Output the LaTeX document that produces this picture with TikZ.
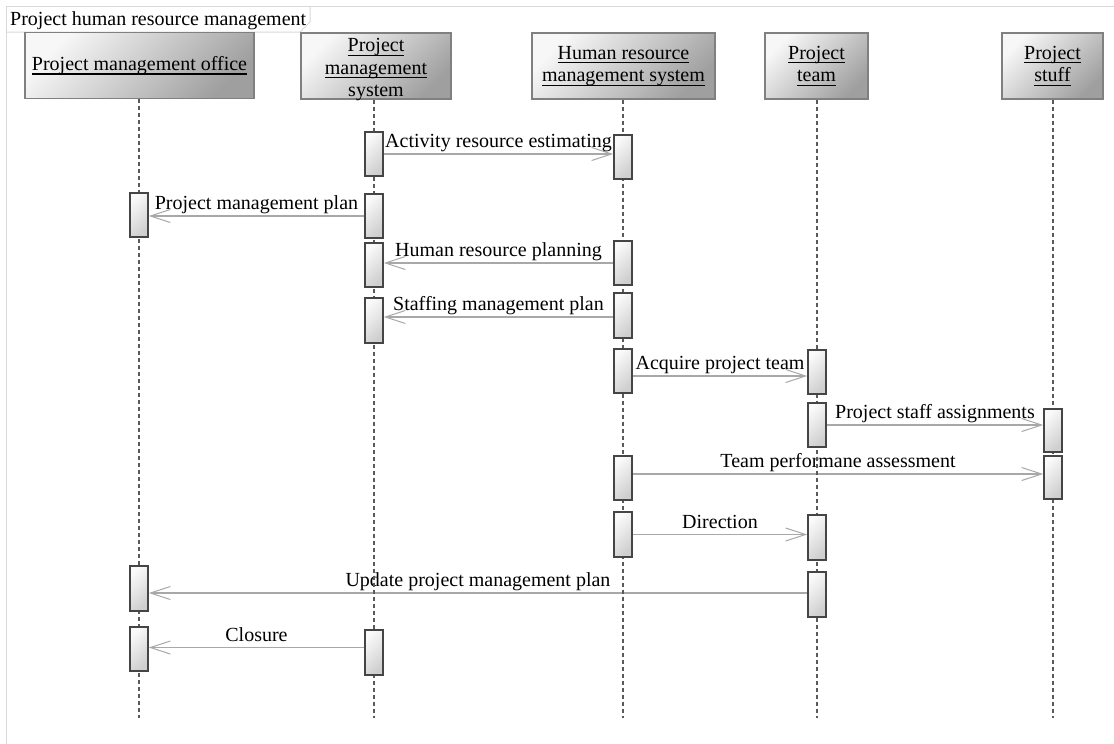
\documentclass[tikz,border=0pt]{standalone}
\usepackage{fontspec}
\setmainfont{Liberation Serif}
\usetikzlibrary{arrows.meta}
\newsavebox{\ulxbox}
\newcommand{\ulx}[1]{\sbox{\ulxbox}{#1}\rlap{\rule[-4.2pt]{\wd\ulxbox}{1.2pt}}\usebox{\ulxbox}}
\definecolor{frameg}{HTML}{D9D9D9}
\definecolor{lifeg}{HTML}{5A5A5A}
\definecolor{msgg}{HTML}{A8A8A8}
\definecolor{actb}{HTML}{454545}
\definecolor{hdrb}{HTML}{808080}
\pgfdeclarelayer{back}
\pgfdeclarelayer{bg}
\pgfsetlayers{back,bg,main}
\tikzset{
  txt/.style={font=\fontsize{20}{22}\selectfont},
  hdr/.style={font=\fontsize{20}{22.5}\selectfont, draw=hdrb, line width=1.2pt, shading=axis, top color=gray!6, bottom color=gray!75, shading angle=45, minimum height=66pt, align=center, inner sep=0pt},
  act/.style={draw=actb, line width=1.5pt, shading=axis, top color=gray!4, bottom color=gray!38, shading angle=45, minimum width=18pt, inner sep=0pt},
  life/.style={draw=lifeg, line width=1.9pt, dash pattern=on 4pt off 3pt},
  msg/.style={draw=msgg, line width=1.3pt, -{Straight Barb[length=20pt,width=13pt,line width=1pt]}},
  lbl/.style={txt, anchor=base, yshift=6.5pt, inner sep=0pt, text=black}
}
\begin{document}
\begin{tikzpicture}[x=1pt,y=-1pt]
\begin{pgfonlayer}{back}
\fill[white] (0,0) rectangle (1114,744);
\end{pgfonlayer}
\useasboundingbox (0,0) rectangle (1114,744);
% frame
\draw[frameg, line width=1pt] (6,744) -- (6,6) -- (1114,6);
\draw[frameg, line width=1pt] (6,32) -- (300,32) -- (310,22) -- (310,6);
\node[txt, anchor=base west, inner sep=0pt] (title) at (10,25) {Project human resource management};
% headers
\node[hdr, minimum width=229pt] (pmo) at (139.5,65.5) {\ulx{Project management office}};
\node[hdr, minimum width=150pt] (pms) at (376,66) {\rule{0pt}{16pt}\ulx{Project}\\\ulx{management}\\\smash{system}};
\node[hdr, minimum width=183pt] (hrm) at (623.5,66) {\ulx{Human resource}\\\ulx{management system}};
\node[hdr, minimum width=103pt] (tm) at (816.5,66) {\ulx{Project}\\\ulx{team}};
\node[hdr, minimum width=101pt] (st) at (1052.5,66) {\ulx{Project}\\\ulx{stuff}};
% activation boxes
\node[act, minimum height=44pt] (o1) at (139,215) {};
\node[act, minimum height=45pt] (o2) at (139,588.5) {};
\node[act, minimum height=44pt] (o3) at (139,649) {};
\node[act, minimum height=44pt] (p1) at (374,154) {};
\node[act, minimum height=44pt] (p2) at (374,216) {};
\node[act, minimum height=44pt] (p3) at (374,265) {};
\node[act, minimum height=45pt] (p4) at (374,320.5) {};
\node[act, minimum height=45pt] (p5) at (374,652.5) {};
\node[act, minimum height=44pt] (h1) at (623,157) {};
\node[act, minimum height=44pt] (h2) at (623,263) {};
\node[act, minimum height=45pt] (h3) at (623,315.5) {};
\node[act, minimum height=44pt] (h4) at (623,371) {};
\node[act, minimum height=44pt] (h5) at (623,478) {};
\node[act, minimum height=45pt] (h6) at (623,534.5) {};
\node[act, minimum height=44pt] (t1) at (817,372) {};
\node[act, minimum height=44pt] (t2) at (817,425) {};
\node[act, minimum height=45pt] (t3) at (817,537.5) {};
\node[act, minimum height=45pt] (t4) at (817,594.5) {};
\node[act, minimum height=43pt] (s1) at (1053,430.5) {};
\node[act, minimum height=43pt] (s2) at (1053,477.5) {};
\begin{pgfonlayer}{bg}
% messages
\draw[msg] (p1.east) -- (p1.east -| h1.west) node[lbl, midway] {Activity resource estimating};
\draw[msg] (p2.west) -- (p2.west -| o1.east) node[lbl, midway] {Project management plan};
\draw[msg] (h2.west) -- (h2.west -| p3.east) node[lbl, midway] {Human resource planning};
\draw[msg] ([yshift=-1.5pt]h3.west) -- ([yshift=-1.5pt]h3.west -| p4.east) node[lbl, midway] {Staffing management plan};
\draw[msg] ([yshift=-5pt]h4.east) -- ([yshift=-5pt]h4.east -| t1.west) node[lbl, midway] {Acquire project team};
\draw[msg] (t2.east) -- (t2.east -| s1.west) node[lbl, midway] {Project staff assignments};
\draw[msg] ([yshift=4pt]h5.east) -- ([yshift=4pt]h5.east -| s2.west) node[lbl, midway] {Team performane assessment};
\draw[msg] (h6.east) -- (h6.east -| t3.west) node[lbl, midway] {Direction};
\draw[msg] ([yshift=1.5pt]t4.west) -- ([yshift=1.5pt]t4.west -| o2.east) node[lbl, midway] {Update project management plan};
\draw[msg] ([yshift=5pt]p5.west) -- ([yshift=5pt]p5.west -| o3.east) node[lbl, midway] {Closure};
% lifelines
\draw[life] (o1 |- pmo.south) -- (o1 |- 0,718);
\draw[life] (p1 |- pms.south) -- (p1 |- 0,718);
\draw[life] (h1 |- hrm.south) -- (h1 |- 0,718);
\draw[life] (t1 |- tm.south) -- (t1 |- 0,718);
\draw[life] (s1 |- st.south) -- (s1 |- 0,718);
\end{pgfonlayer}
\end{tikzpicture}
\end{document}
